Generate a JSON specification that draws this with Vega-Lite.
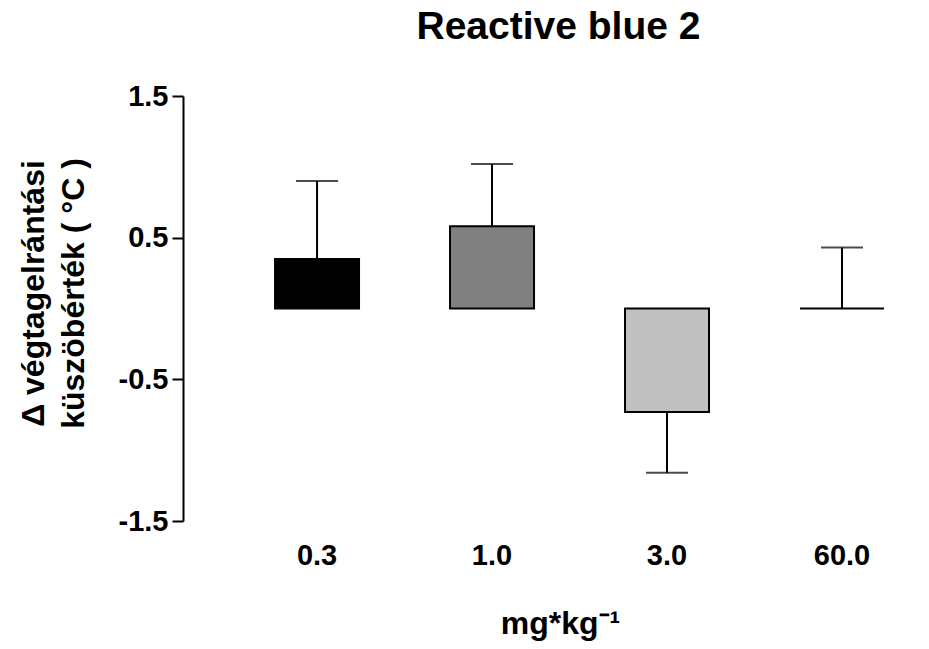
{
  "$schema": "https://vega.github.io/schema/vega-lite/v6.json",
  "autosize": {"type": "none"},
  "padding": {"left": 183, "top": 96, "right": 45, "bottom": 128},
  "width": 701,
  "height": 425,
  "background": "white",
  "title": {
    "text": "Reactive blue 2",
    "font": "Liberation Sans",
    "fontWeight": "bold",
    "fontSize": 39,
    "color": "black",
    "anchor": "middle",
    "dx": 25,
    "offset": 35
  },
  "data": {
    "values": [
      {"dose": "0.3", "mean": 0.35, "err": 0.90},
      {"dose": "1.0", "mean": 0.58, "err": 1.02},
      {"dose": "3.0", "mean": -0.73, "err": -1.16},
      {"dose": "60.0", "mean": 0.0, "err": 0.43}
    ]
  },
  "encoding": {
    "x": {
      "field": "dose",
      "type": "nominal",
      "scale": {"domain": ["0.3", "1.0", "3.0", "60.0"], "paddingInner": 0.52, "paddingOuter": 0.263, "align": 1},
      "axis": {
        "title": "mg*kg⁻¹",
        "labelAngle": 0,
        "domain": false,
        "ticks": false,
        "labelPadding": 20,
        "labelFont": "Liberation Sans",
        "labelFontWeight": "bold",
        "labelFontSize": 29,
        "labelColor": "black",
        "titleFont": "Liberation Sans",
        "titleFontWeight": "bold",
        "titleFontSize": 32,
        "titleColor": "black",
        "titleX": 377,
        "titleY": 112,
        "titleBaseline": "alphabetic",
        "titleAlign": "center"
      }
    }
  },
  "layer": [
    {
      "mark": {"type": "rule", "color": "black", "strokeWidth": 2},
      "encoding": {
        "y": {
          "field": "mean",
          "type": "quantitative",
          "scale": {"domain": [-1.5, 1.5], "nice": false, "zero": false},
          "axis": {
            "values": [-1.5, -0.5, 0.5, 1.5],
            "labelExpr": "datum.value < 0 ? '-' + format(-datum.value, '.1f') : format(datum.value, '.1f')",
            "grid": false,
            "domainColor": "black",
            "domainWidth": 2,
            "tickColor": "black",
            "tickWidth": 2,
            "tickSize": 11,
            "labelPadding": 4,
            "labelFont": "Liberation Sans",
            "labelFontWeight": "bold",
            "labelFontSize": 29,
            "labelColor": "black",
            "title": ["Δ végtagelrántási", "küszöbérték ( °C )"],
            "titleFont": "Liberation Sans",
            "titleFontWeight": "bold",
            "titleFontSize": 32,
            "titleColor": "black",
            "titleLineHeight": 40,
            "titleAngle": -90,
            "titleBaseline": "alphabetic",
            "titleAlign": "center",
            "titleX": -140,
            "titleY": 197
          }
        },
        "y2": {"field": "err"}
      }
    },
    {
      "mark": {"type": "tick", "color": "black", "thickness": 2},
      "encoding": {
        "y": {"field": "err", "type": "quantitative"},
        "size": {"value": 42}
      }
    },
    {
      "mark": {"type": "bar", "stroke": "black", "strokeWidth": 2},
      "encoding": {
        "y": {"field": "mean", "type": "quantitative"},
        "fill": {
          "field": "dose",
          "type": "nominal",
          "scale": {"domain": ["0.3", "1.0", "3.0", "60.0"], "range": ["#000000", "#808080", "#c0c0c0", "#ffffff"]},
          "legend": null
        }
      }
    }
  ],
  "config": {
    "view": {"stroke": null},
    "font": "Liberation Sans"
  }
}
